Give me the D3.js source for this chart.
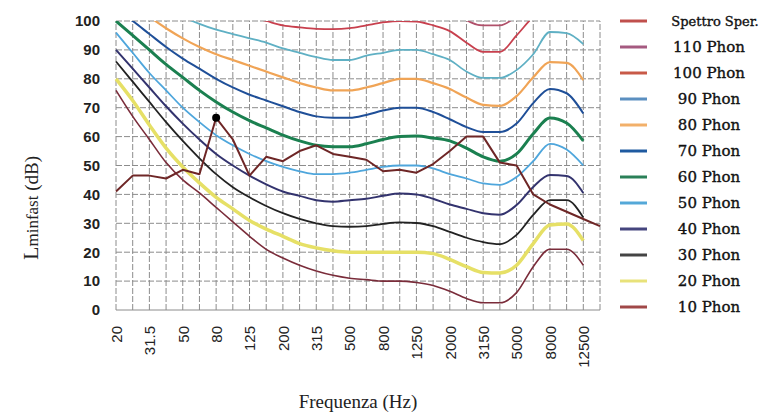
<!DOCTYPE html>
<html>
<head>
<meta charset="utf-8">
<script src="https://cdn.jsdelivr.net/npm/d3@7"></script>
<style>
  body { margin: 0; background: #fff; }
  svg { display: block; }
</style>
</head>
<body>
<svg id="chart" width="770" height="417"></svg>
<script>
// Third-octave band centre frequencies (Hz)
const bands = ["20","25","31.5","40","50","63","80","100","125","160","200","250","315","400","500",
  "630","800","1000","1250","1600","2000","2500","3150","4000","5000","6300","8000","10000","12500","16000"];
const tickLabels = ["20","31.5","50","80","125","200","315","500","800","1250","2000","3150","5000","8000","12500"];
const yTicks = [0, 10, 20, 30, 40, 50, 60, 70, 80, 90, 100];

// Measured spectrum, Lmin,fast per band (dB)
const spettro = [41, 46.5, 46.5, 45.5, 48.5, 47, 66.5, 59, 46.5, 53, 51.5, 55, 57, 54, 53,
  52, 48, 48.5, 47.5, 50.5, 55, 60, 60, 51, 50, 40, 36.5, 34, 31.5, 29];

// Equal-loudness contours, 20 Hz .. 12500 Hz (dB)
const phon110 = [130, 126, 122, 119, 116, 114, 112, 111, 110, 109, 108, 107.5, 107, 107, 107.5,
  108.5, 109.5, 110, 110, 108.5, 105.5, 100.3, 98.5, 98.5, 102, 110, 115, 115, 111];
const phon100 = [125, 120, 116, 112, 109, 106.5, 104.5, 103, 101.5, 100, 98.5, 97.8, 97.3, 97.2, 97.5,
  98.5, 99.5, 100, 99.8, 98.5, 96.5, 92.5, 89.3, 89.3, 95, 101.5, 106, 106, 102];
const phon90 = [118, 113, 109, 105, 101.5, 99, 97, 95.5, 94, 92.5, 90.5, 89, 87.5, 86.5, 86.5,
  88, 89, 90, 90, 88.5, 86.5, 82.5, 80.3, 80.3, 83, 88.5, 96.2, 95.8, 92];
const phon80 = [112, 106, 101.5, 97.5, 94, 91, 88.5, 86.5, 84.5, 82.5, 80.5, 78.5, 77, 76, 76,
  77, 78.5, 80, 80, 78.5, 76.5, 73.5, 71, 70.6, 74, 80.5, 85.8, 85.5, 79.5];
const phon70 = [104, 100, 95.5, 91, 87, 83.5, 80, 77, 74.5, 72.5, 70.5, 68.5, 67, 66.5, 66.5,
  67.5, 69, 70, 70, 68.5, 66, 63.3, 61.6, 61.6, 64.5, 71.6, 76.5, 75, 68];
const phon60 = [100, 95, 90, 85, 80.5, 76, 72, 68.5, 65.5, 63, 60.5, 58.5, 57, 56.5, 56.5,
  57.5, 59, 60, 60.2, 59.5, 58.5, 56, 53, 51.5, 54, 61, 66.4, 64.7, 58.5];
const phon50 = [96, 89, 82, 76, 70, 65, 60.5, 57, 54, 51.5, 49.5, 48, 47, 47, 47.5,
  48.5, 49.5, 50, 50, 49, 47, 45.5, 43.8, 43.3, 46, 51.5, 57.5, 55.5, 50];
const phon40 = [90, 83.5, 77, 70.5, 64.5, 59, 54, 50, 46.5, 43.5, 41, 39.5, 38, 37.5, 38,
  38.5, 39.5, 40.3, 40, 38.5, 36.5, 35, 33.5, 33, 36.3, 42.6, 46.7, 46.4, 40.5];
const phon30 = [86, 79, 72, 65, 58.5, 52.5, 47, 42.5, 39, 36, 33.5, 31.5, 30, 29, 28.8,
  29, 29.8, 30.3, 30.1, 29, 27, 25, 23.5, 22.8, 26, 32.9, 38, 38, 32];
const phon20 = [80, 72.5, 64, 56, 49.5, 44, 39, 35, 31, 28, 25.5, 23, 21.5, 20.5, 20,
  20, 20, 20, 20, 19.5, 17.5, 15, 13, 12.8, 15.5, 23, 29.4, 29.8, 24];
const phon10 = [76, 67, 59, 51, 45, 40.5, 35.5, 30.5, 25.5, 21, 18, 15.5, 13.5, 12, 11,
  10.5, 10, 10, 9.5, 8.5, 6.5, 4, 2.5, 2.5, 6, 15, 21, 21, 15.5];

const seriesNames = ["Spettro Sper.", "110 Phon", "100 Phon", "90 Phon", "80 Phon", "70 Phon",
  "60 Phon", "50 Phon", "40 Phon", "30 Phon", "20 Phon", "10 Phon"];
const seriesValues = [spettro, phon110, phon100, phon90, phon80, phon70, phon60, phon50, phon40, phon30, phon20, phon10];
const lineColors = ["#6e2626", "#b0506a", "#c8404e", "#5fb0c4", "#f0a456", "#1f4f98", "#1b8050",
  "#4ea6dc", "#33336e", "#222222", "#e6e066", "#7a2c3a"];
const legendColors = ["#c0504d", "#a55a80", "#c85a48", "#5b8fc0", "#f2b06a", "#1f5aa0", "#2a8058",
  "#54a8d8", "#45457e", "#444444", "#e8e27a", "#a04848"];
const lineWidths = [2, 1.8, 1.8, 1.8, 2.2, 2, 3, 1.8, 2, 1.8, 3.5, 1.6];

const svg = d3.select("#chart");
const margin = { left: 116, right: 600, top: 21, bottom: 310 };

const x = d3.scalePoint().domain(bands).range([margin.left, margin.right]);
const y = d3.scaleLinear().domain([0, 100]).range([margin.bottom, margin.top]);

// Grid
const grid = svg.append("g").attr("class", "grid");
grid.selectAll("line.v").data(bands).join("line")
  .attr("class", "v")
  .attr("x1", d => x(d)).attr("x2", d => x(d))
  .attr("y1", y(0)).attr("y2", y(100))
  .attr("stroke", "#8c8c8c").attr("stroke-width", 1)
  .attr("stroke-dasharray", "6,2");
grid.selectAll("line.h").data(yTicks).join("line")
  .attr("class", "h")
  .attr("x1", x(bands[0])).attr("x2", x(bands[bands.length - 1]))
  .attr("y1", d => y(d)).attr("y2", d => y(d))
  .attr("stroke", "#8c8c8c").attr("stroke-width", 1)
  .attr("stroke-dasharray", d => (d === 0 ? null : "6,2"));

// Y axis labels
const yAxis = d3.axisLeft(y).tickValues(yTicks).tickSize(0).tickPadding(16);
svg.append("g").attr("transform", `translate(${margin.left},0)`).call(yAxis)
  .call(g => g.select(".domain").remove())
  .call(g => g.selectAll("text")
    .attr("font-family", "Liberation Sans, Arial, sans-serif")
    .attr("font-size", 15).attr("font-weight", "bold").attr("fill", "#222"));

// X axis labels, rotated
const xAxis = d3.axisBottom(x).tickValues(tickLabels).tickSize(0);
svg.append("g").attr("transform", `translate(0,${margin.bottom})`).call(xAxis)
  .call(g => g.select(".domain").remove())
  .call(g => g.selectAll("text")
    .attr("font-family", "Liberation Sans, Arial, sans-serif")
    .attr("font-size", 15).attr("fill", "#222")
    .attr("text-anchor", "end")
    .attr("transform", "rotate(-90)")
    .attr("x", -16).attr("y", 0).attr("dy", "0.35em"));

// Curves, clipped to the plot area
svg.append("clipPath").attr("id", "plotClip")
  .append("rect").attr("x", margin.left - 2).attr("y", margin.top)
  .attr("width", margin.right - margin.left + 4).attr("height", margin.bottom - margin.top + 2);

const plot = svg.append("g").attr("clip-path", "url(#plotClip)");
const smooth = d3.line().x((d, i) => x(bands[i])).y(d => y(d)).curve(d3.curveMonotoneX);
const straight = d3.line().x((d, i) => x(bands[i])).y(d => y(d));

// contours drawn from 10 phon upward, spectrum on top
for (let k = seriesValues.length - 1; k >= 1; k--) {
  plot.append("path").datum(seriesValues[k])
    .attr("d", smooth)
    .attr("fill", "none")
    .attr("stroke", lineColors[k])
    .attr("stroke-width", lineWidths[k])
    .attr("stroke-linejoin", "round");
}
plot.append("path").datum(spettro)
  .attr("d", straight)
  .attr("fill", "none")
  .attr("stroke", lineColors[0])
  .attr("stroke-width", lineWidths[0])
  .attr("stroke-linejoin", "round");

// marker on the spectrum maximum
const peakIdx = d3.maxIndex(spettro);
svg.append("circle")
  .attr("cx", x(bands[peakIdx])).attr("cy", y(spettro[peakIdx]))
  .attr("r", 4).attr("fill", "#000");

// Axis titles
svg.append("text")
  .attr("x", 358).attr("y", 408).attr("text-anchor", "middle")
  .attr("font-family", "Liberation Serif, Times New Roman, serif")
  .attr("font-size", 19).attr("fill", "#222")
  .text("Frequenza (Hz)");

const yt = svg.append("text")
  .attr("transform", "translate(38,208) rotate(-90)")
  .attr("text-anchor", "middle")
  .attr("font-family", "Liberation Serif, Times New Roman, serif")
  .attr("fill", "#222");
yt.append("tspan").attr("font-size", 22).text("L");
yt.append("tspan").attr("font-size", 17).text("minfast");
yt.append("tspan").attr("font-size", 19).text(" (dB)");

// Legend
const legend = svg.append("g").attr("transform", "translate(620,21)");
const rows = legend.selectAll("g").data(seriesNames).join("g")
  .attr("transform", (d, i) => `translate(0,${i * 26})`);
rows.append("line")
  .attr("x1", 0).attr("x2", 27).attr("y1", 0).attr("y2", 0)
  .attr("stroke", (d, i) => legendColors[i]).attr("stroke-width", 3);
rows.append("text")
  .attr("x", (d, i) => (i === 0 ? 95 : 89)).attr("y", 0).attr("dy", "0.35em")
  .attr("text-anchor", "middle")
  .attr("font-family", "DejaVu Serif, serif")
  .attr("font-size", (d, i) => (i === 0 ? 13 : 15))
  .attr("fill", "#111")
  .attr("stroke", "#111").attr("stroke-width", 0.35)
  .text(d => d);
</script>
</body>
</html>
